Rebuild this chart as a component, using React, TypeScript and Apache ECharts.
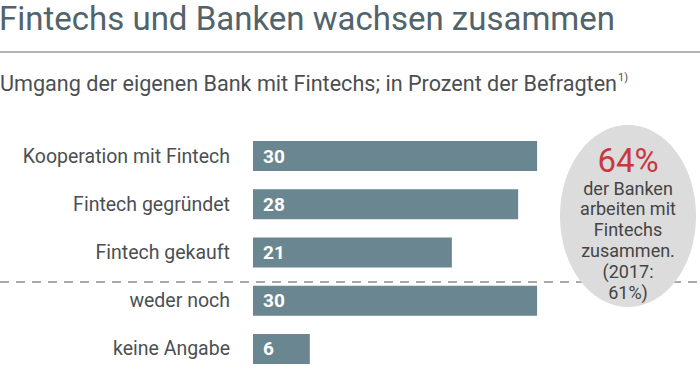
import React, { useEffect, useRef } from "react";
import * as echarts from "echarts";

const categories = [
  "Kooperation mit Fintech",
  "Fintech gegründet",
  "Fintech gekauft",
  "weder noch",
  "keine Angabe",
];
const values = [30, 28, 21, 30, 6];
const titleText = "Fintechs und Banken wachsen zusammen";
const subtitleText = "Umgang der eigenen Bank mit Fintechs; in Prozent der Befragten";
const bubbleHead = "64%";
const bubbleLines = ["der Banken", "arbeiten mit", "Fintechs", "zusammen.", "(2017:", "61%)"];

const FONT = "Roboto, 'Noto Sans', sans-serif";

export default function App() {
  const ref = useRef<HTMLDivElement>(null);
  useEffect(() => {
    const chart = echarts.init(ref.current!, null, { renderer: "svg" });
    const lineYs = [188, 208.5, 229, 250, 271, 292];
    chart.setOption({
      animation: false,
      backgroundColor: "#ffffff",
      grid: { left: 253, top: 132, width: 378.8, height: 250, containLabel: false },
      xAxis: {
        type: "value",
        min: 0,
        max: 40,
        show: false,
      },
      yAxis: {
        type: "category",
        data: categories,
        inverse: true,
        axisLine: { show: false },
        axisTick: { show: false },
        splitLine: { show: false },
        axisLabel: {
          fontSize: 19.5,
          color: "#4b4f52",
          fontFamily: FONT,
          margin: 23,
        },
      },
      series: [
        {
          type: "bar",
          data: values,
          barWidth: 30,
          itemStyle: { color: "#6a8791" },
          label: {
            show: true,
            position: "insideLeft",
            distance: 10,
            color: "#ffffff",
            fontWeight: "bold",
            fontSize: 19,
            fontFamily: FONT,
          },
        },
      ],
      graphic: [
        {
          type: "text",
          x: -1,
          y: 18,
          style: {
            text: titleText,
            fontSize: 33,
            fill: "#52646b",
            fontFamily: FONT,
            verticalAlign: "middle",
          },
        },
        {
          type: "line",
          shape: { x1: 0, y1: 52, x2: 700, y2: 52 },
          style: { stroke: "#9a9a9a", lineWidth: 1.5 },
        },
        {
          type: "text",
          x: 0,
          y: 83,
          style: {
            text: subtitleText + "{sup|1)}",
            fontSize: 21.6,
            fill: "#4b4f52",
            fontFamily: FONT,
            verticalAlign: "middle",
            rich: {
              sup: { fontSize: 11, verticalAlign: "top", padding: [0, 0, 10, 1], fill: "#4b4f52", fontFamily: FONT },
            },
          },
        },
        {
          type: "line",
          shape: { x1: 0, y1: 282, x2: 700, y2: 282 },
          style: { stroke: "#8a8a8a", lineWidth: 1.5, lineDash: [9, 7] },
        },
        {
          type: "ellipse",
          shape: { cx: 628, cy: 216, rx: 68, ry: 91 },
          style: { fill: "#dcdcdc" },
        },
        {
          type: "text",
          x: 628,
          y: 160,
          style: {
            text: bubbleHead,
            fontSize: 33,
            lineHeight: 28,
            fill: "#c8393d",
            fontFamily: FONT,
            align: "center",
            verticalAlign: "middle",
          },
        },
        ...bubbleLines.map((t, i) => ({
          type: "text",
          x: 628,
          y: lineYs[i],
          style: {
            text: t,
            fontSize: 18,
            lineHeight: 19,
            fill: "#444444",
            fontFamily: FONT,
            align: "center",
            verticalAlign: "middle",
          },
        })),
      ],
    });
    return () => chart.dispose();
  }, []);
  return (
    <div
      ref={ref}
      style={{ position: "fixed", left: 0, top: 0, width: 700, height: 373 }}
    />
  );
}
